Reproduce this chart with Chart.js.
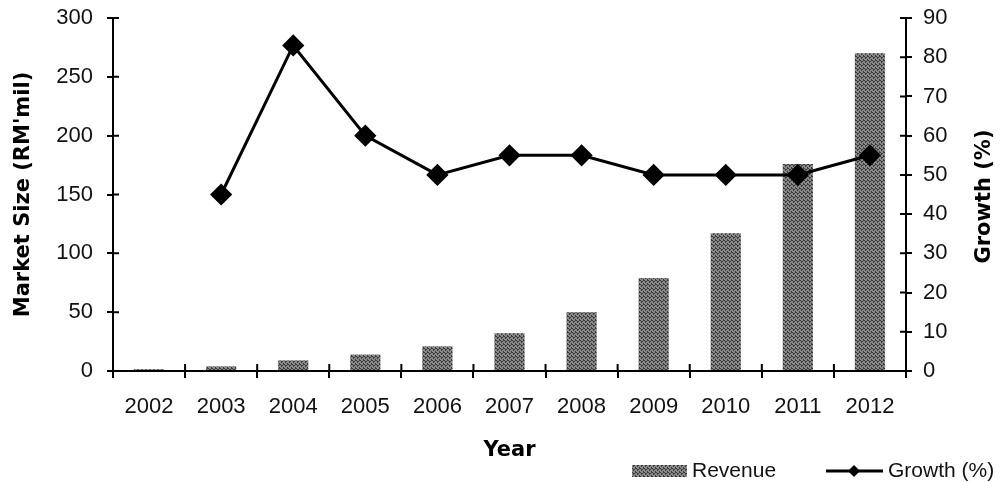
<!DOCTYPE html>
<html lang="en">
<head>
    <meta charset="UTF-8">
    <title>Market Size and Growth</title>
    <style>
        body {
            margin: 0;
            padding: 0;
            background-color: #ffffff;
        }
        #wrap {
            width: 1003px;
            height: 482px;
        }
    </style>
</head>
<body>
    <div id="wrap"><canvas id="marketChart" width="1003" height="482"></canvas></div>

    <script src="https://cdn.jsdelivr.net/npm/chart.js"></script>
    <script>
        // Data
        const years = ['2002', '2003', '2004', '2005', '2006', '2007', '2008', '2009', '2010', '2011', '2012'];
        const revenue = [1.5, 4, 9, 14, 21, 32, 50, 79, 117, 176, 270];
        const growth = [null, 45, 83, 60, 50, 55, 55, 50, 50, 50, 55];
        const leftTicks = [0, 50, 100, 150, 200, 250, 300];
        const rightTicks = [0, 10, 20, 30, 40, 50, 60, 70, 80, 90];

        const tickFont = { family: 'Arial, "Liberation Sans", sans-serif', size: 22 };
        const titleFont = { family: '"DejaVu Sans", sans-serif', size: 21, weight: 'bold' };

        // grey stippled fill like the scanned bars
        function makePattern() {
            const c = document.createElement('canvas');
            c.width = 4;
            c.height = 4;
            const g = c.getContext('2d');
            g.fillStyle = '#8a8a8a';
            g.fillRect(0, 0, 4, 4);
            g.fillStyle = '#3a3a3a';
            g.fillRect(0, 0, 1, 1);
            g.fillRect(2, 1, 1, 1);
            g.fillRect(1, 2, 1, 1);
            g.fillRect(3, 3, 1, 1);
            g.fillRect(3, 0, 1, 1);
            g.fillRect(1, 1, 1, 1);
            return g.createPattern(c, 'repeat');
        }
        const barFill = makePattern();

        // ticks in the reference cross the axis lines, draw the inner half
        const innerTicks = {
            id: 'innerTicks',
            afterDatasetsDraw(chart) {
                const ctx = chart.ctx;
                const area = chart.chartArea;
                const x = chart.scales.x;
                ctx.save();
                ctx.strokeStyle = '#000';
                ctx.lineWidth = 2;
                ctx.beginPath();
                for (let i = 1; i < years.length; i++) {
                    const px = (x.getPixelForTick(i - 1) + x.getPixelForTick(i)) / 2;
                    ctx.moveTo(px, area.bottom);
                    ctx.lineTo(px, area.bottom - 7);
                }
                chart.scales.y.ticks.forEach(t => {
                    const py = chart.scales.y.getPixelForValue(t.value);
                    ctx.moveTo(area.left, py);
                    ctx.lineTo(area.left + 6, py);
                });
                chart.scales.y1.ticks.forEach(t => {
                    const py = chart.scales.y1.getPixelForValue(t.value);
                    ctx.moveTo(area.right, py);
                    ctx.lineTo(area.right - 6, py);
                });
                ctx.stroke();
                ctx.restore();
            }
        };

        // right axis title (reads bottom to top) and the legend
        const extras = {
            id: 'extras',
            afterDraw(chart) {
                const ctx = chart.ctx;
                const area = chart.chartArea;
                ctx.save();
                ctx.fillStyle = '#000';
                ctx.font = 'bold 21px "DejaVu Sans", sans-serif';
                ctx.textAlign = 'center';
                ctx.textBaseline = 'middle';
                ctx.translate(985, (area.top + area.bottom) / 2 + 2);
                ctx.rotate(-Math.PI / 2);
                ctx.fillText('Growth (%)', 0, 0);
                ctx.restore();

                // legend
                const ly = 471;
                ctx.save();
                ctx.fillStyle = barFill;
                ctx.fillRect(632, ly - 6, 55, 12);
                ctx.fillStyle = '#111';
                ctx.font = '21px Arial, "Liberation Sans", sans-serif';
                ctx.textBaseline = 'middle';
                ctx.textAlign = 'left';
                ctx.fillText('Revenue', 692, ly);

                ctx.strokeStyle = '#000';
                ctx.lineWidth = 3;
                ctx.beginPath();
                ctx.moveTo(826, ly);
                ctx.lineTo(883, ly);
                ctx.stroke();
                ctx.fillStyle = '#000';
                ctx.beginPath();
                ctx.moveTo(854, ly - 6);
                ctx.lineTo(860, ly);
                ctx.lineTo(854, ly + 6);
                ctx.lineTo(848, ly);
                ctx.closePath();
                ctx.fill();
                ctx.fillStyle = '#111';
                ctx.fillText('Growth (%)', 888, ly);
                ctx.restore();
            }
        };

        const ctx = document.getElementById('marketChart').getContext('2d');
        new Chart(ctx, {
            data: {
                labels: years,
                datasets: [
                    {
                        type: 'line',
                        label: 'Growth (%)',
                        data: growth,
                        yAxisID: 'y1',
                        borderColor: '#000',
                        backgroundColor: '#000',
                        borderWidth: 3,
                        pointStyle: 'rectRot',
                        pointRadius: 9,
                        pointHoverRadius: 9,
                        tension: 0,
                        order: 0
                    },
                    {
                        type: 'bar',
                        label: 'Revenue',
                        data: revenue,
                        yAxisID: 'y',
                        backgroundColor: barFill,
                        borderWidth: 0,
                        categoryPercentage: 1,
                        barPercentage: 0.42,
                        order: 1
                    }
                ]
            },
            options: {
                responsive: false,
                animation: false,
                layout: { padding: { top: 18, left: 0, right: 0, bottom: 0 } },
                plugins: {
                    legend: { display: false },
                    tooltip: { enabled: false }
                },
                scales: {
                    x: {
                        grid: { drawOnChartArea: false, color: '#000', lineWidth: 2, tickLength: 7 },
                        border: { color: '#000', width: 2 },
                        ticks: { color: '#111', font: tickFont, padding: 16 },
                        title: { display: true, text: 'Year', color: '#000', font: titleFont, padding: { top: 0, bottom: 19 } },
                        afterFit: s => { s.height = 111; s.paddingLeft = 0; s.paddingRight = 0; }
                    },
                    y: {
                        position: 'left',
                        min: 0,
                        max: 300,
                        afterBuildTicks: s => { s.ticks = leftTicks.map(v => ({ value: v })); },
                        grid: { drawOnChartArea: false, color: '#000', lineWidth: 2, tickLength: 6 },
                        border: { color: '#000', width: 2 },
                        ticks: { color: '#111', font: tickFont, padding: 14 },
                        title: { display: true, text: "Market Size (RM'mil)", color: '#000', font: titleFont, padding: { top: 11, bottom: 0 } },
                        afterFit: s => { s.width = 113; s.paddingTop = 0; s.paddingBottom = 0; }
                    },
                    y1: {
                        position: 'right',
                        min: 0,
                        max: 90,
                        afterBuildTicks: s => { s.ticks = rightTicks.map(v => ({ value: v })); },
                        grid: { drawOnChartArea: false, color: '#000', lineWidth: 2, tickLength: 6 },
                        border: { color: '#000', width: 2 },
                        ticks: { color: '#111', font: tickFont, padding: 11 },
                        afterFit: s => { s.width = 97; s.paddingTop = 0; s.paddingBottom = 0; }
                    }
                }
            },
            plugins: [innerTicks, extras]
        });
    </script>
</body>
</html>
